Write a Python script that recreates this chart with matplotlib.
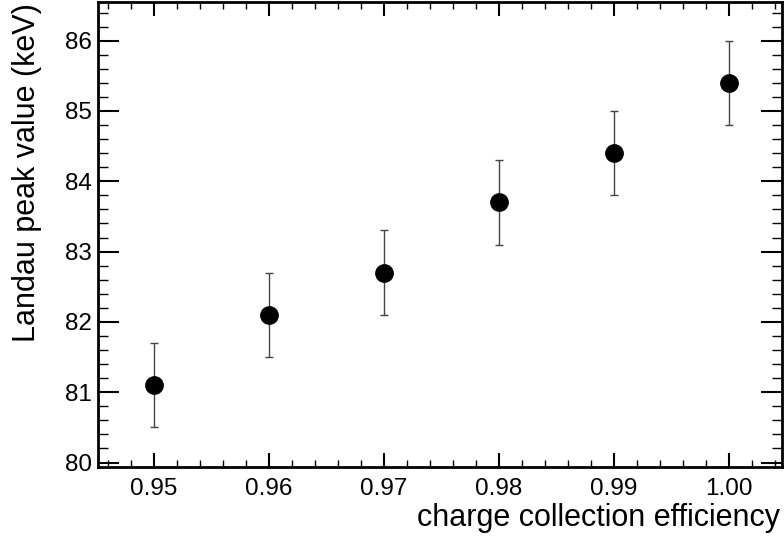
import matplotlib
matplotlib.use("Agg")
import matplotlib.pyplot as plt
from matplotlib.ticker import MultipleLocator

plt.rcParams['font.family'] = ['Liberation Sans', 'DejaVu Sans']

efficiency = [0.95, 0.96, 0.97, 0.98, 0.99, 1.00]
peak_value = [81.1, 82.1, 82.7, 83.7, 84.4, 85.4]
peak_error = [0.6, 0.6, 0.6, 0.6, 0.6, 0.6]
x_ticks = [0.95, 0.96, 0.97, 0.98, 0.99, 1.00]
x_tick_labels = ["0.95", "0.96", "0.97", "0.98", "0.99", "1.00"]
y_ticks = [80, 81, 82, 83, 84, 85, 86]

fig = plt.figure(figsize=(7.84, 5.4), dpi=100)
ax = fig.add_axes([0.1244, 0.1357, 0.9974 - 0.1244, 0.9963 - 0.1357])

ax.errorbar(efficiency, peak_value, yerr=peak_error, fmt='o', color='black',
            ecolor='#444444', elinewidth=1.0, capsize=3, capthick=1.0,
            markersize=12.5)

ax.set_xlim(0.9451, 1.0046)
ax.set_ylim(79.94, 86.55)
ax.set_xticks(x_ticks)
ax.set_xticklabels(x_tick_labels)
ax.set_yticks(y_ticks)
ax.xaxis.set_minor_locator(MultipleLocator(0.002))
ax.yaxis.set_minor_locator(MultipleLocator(0.2))

ax.tick_params(which='both', direction='in', top=True, right=True, labelsize=17.5, width=1.5)
ax.tick_params(axis='x', which='major', length=10, pad=8)
ax.tick_params(axis='x', which='minor', length=5, width=1.0)
ax.tick_params(axis='y', which='major', length=15, pad=4)
ax.tick_params(axis='y', which='minor', length=7.5, width=1.0)

for s in ax.spines.values():
    s.set_linewidth(2)

ax.set_xlabel("charge collection efficiency", fontsize=22, loc='right')
ax.set_ylabel("Landau peak value (keV)", fontsize=22, loc='top')
ax.xaxis.label.set_verticalalignment('baseline')
ax.xaxis.set_label_coords(0.997, -0.1276)
ax.yaxis.set_label_coords(-0.081, 0.998)

fig.savefig("out.png", dpi=100)
